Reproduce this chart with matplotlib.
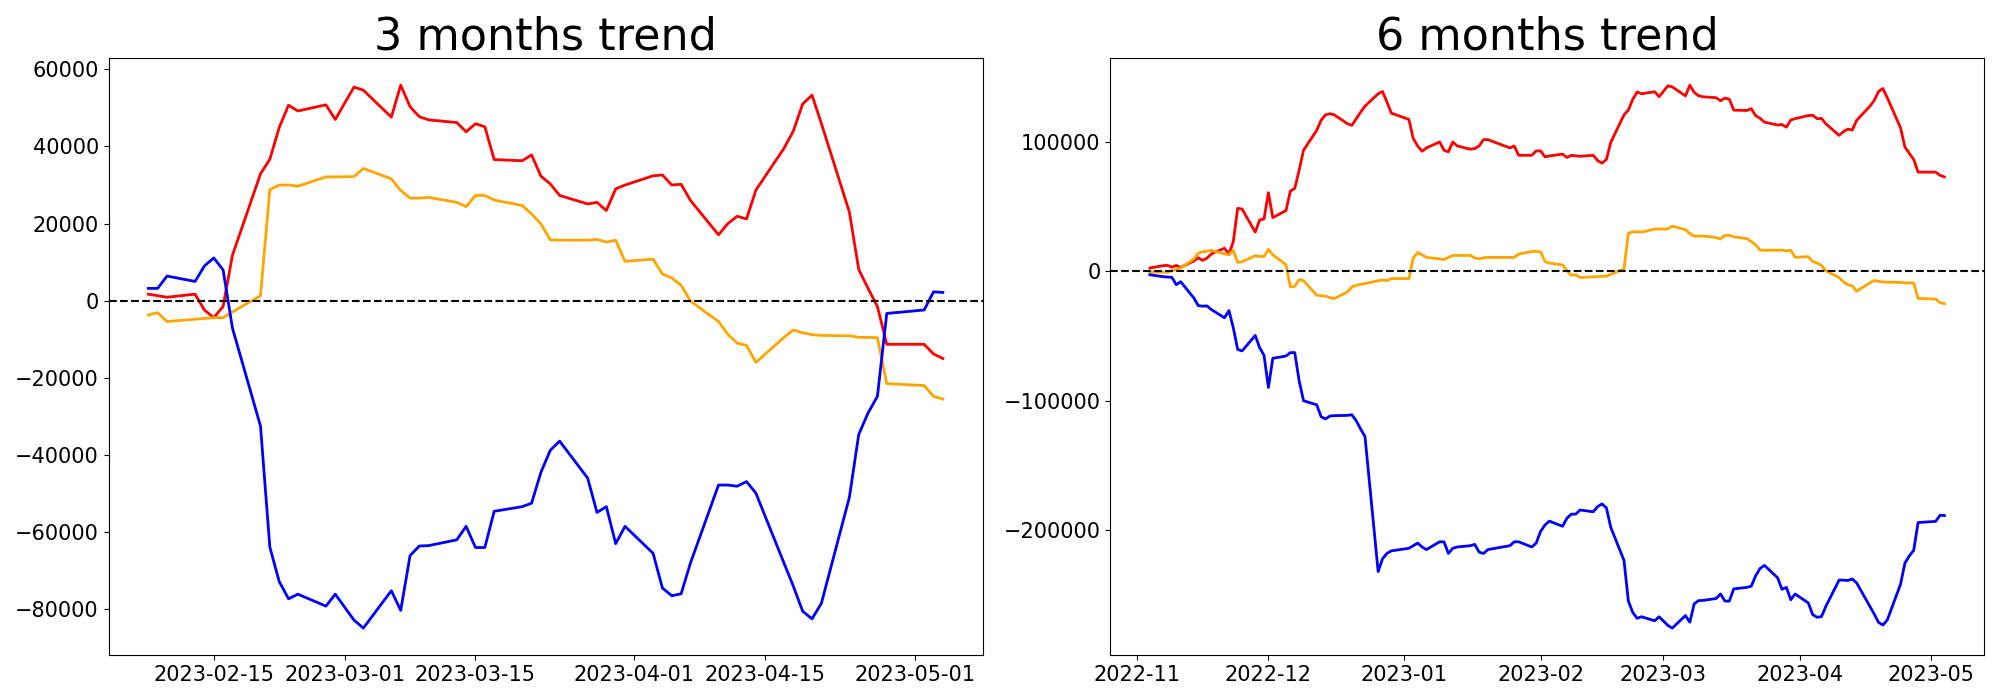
import numpy as np
import pandas as pd
import matplotlib
matplotlib.use('Agg')
import matplotlib.pyplot as plt

# KRX closed days inside the window
krx_holidays = ['2022-12-30', '2023-01-23', '2023-01-24', '2023-03-01', '2023-05-01']


def trading_days(start, end):
    days = pd.bdate_range(start, end)
    return days[~days.isin(pd.to_datetime(krx_holidays))]


dates_3m = trading_days('2023-02-08', '2023-05-04')
dates_6m = trading_days('2022-11-04', '2023-05-04')

# 3 months (2023-02-08 .. 2023-05-04)
red_3m = [1700, 1300, 900, 1700, -2400, -4400, -1500, 11800, 32900, 36700,
          44900, 50700, 49200, 50800, 47000,
          55400, 54600, 47600, 55900, 50300, 47700, 46900, 46200, 43800, 45900,
          45100, 36600, 36300, 37800, 32300, 30300, 27300, 25100, 25500, 23400,
          29000, 30000,
          32400, 32600, 30000, 30200, 26000, 17100, 20000, 21900, 21200, 28700,
          39500, 44000, 51000, 53300, 46000, 23000, 8100, 3200, -1500, -11300,
          -11300, -13800, -15000]
orange_3m = [-3700, -3100, -5400, -4800, -4600, -4400, -4400, -2900, 1300, 28800,
             30000, 30000, 29700, 32100, 32100,
             32200, 34300, 31600, 28600, 26600, 26600, 26800, 25500, 24400, 27300,
             27300, 26100, 24700, 22500, 19900, 15800, 15700, 15700, 15900, 15200,
             15700, 10200,
             10800, 6900, 5900, 4000, -100, -5400, -8700, -11000, -11600, -16000,
             -9500, -7600, -8300, -8800, -9000, -9100, -9500, -9500, -9600, -21500,
             -22000, -24800, -25500]
blue_3m = [3200, 3200, 6400, 5000, 9000, 11100, 8000, -7100, -32500, -63900,
           -72800, -77300, -76100, -79200, -76100,
           -82800, -84900, -75200, -80300, -66100, -63600, -63500, -62000, -58500, -64000,
           -64000, -54600, -53400, -52500, -44500, -38800, -36400, -46000, -54900, -53400,
           -63000, -58500,
           -65500, -74500, -76500, -76000, -68000, -47800, -47800, -48100, -46900, -49900,
           -68000, -74000, -80500, -82500, -78500, -51000, -34700, -29100, -24800, -3300,
           -2400, 2300, 2150]

# 6 months (2022-11-04 .. 2023-05-04)
red_6m = [2600, 4400, 4600, 3300, 4600, 3000, 8000, 10500, 8500, 10200,
          13500, 17900, 13300, 23000, 48700, 48200, 30300, 39700, 40500,
          60800, 41500, 47000, 62100, 64100, 78200, 93600, 109000, 116700, 121000,
          121800, 121000, 114100, 112800, 117900, 123000, 127700, 137200, 139000, 130800,
          122300,
          117400, 102600, 96900, 92800, 95400, 100000, 93600, 92300, 100000, 96900,
          94400, 94900, 96900, 101800, 101800, 95400, 96900, 89700, 89700, 93100,
          93100, 88500, 89200, 90600, 88000, 89700, 89300, 88900, 89700, 85600,
          83600, 86500, 99800, 120900, 124700, 132900, 138700, 137200, 138800, 135000,
          143400, 142600, 135600, 143900, 138300, 135700, 134900, 134200, 131800, 133900,
          133100, 124600, 124300, 125800, 120300, 118300, 115300, 113100, 113500, 111400,
          117000, 118000,
          120400, 120600, 118000, 118200, 114000, 105100, 108000, 109900, 109200, 116700,
          127500, 132000, 139000, 141300, 134000, 111000, 96100, 91200, 86500, 76700,
          76700, 74200, 73000]
orange_6m = [-500, -600, -700, 500, 1500, 2600, 9500, 14100, 15100, 15600,
             16200, 13600, 12800, 16200, 6900, 7400, 12100, 11500, 11500,
             17200, 12800, 5100, -12100, -11500, -6400, -7200, -18500, -18700, -19200,
             -20300, -21000, -15900, -12100, -10800, -10000, -9500, -7200, -6700, -7200,
             -5600,
             -5600, 10300, 14600, 12800, 10800, 9700, 9000, 10800, 12300, 12300,
             12300, 10300, 9700, 10500, 10800, 10800, 10800, 13300, 15400, 15400,
             15100, 7700, 6400, 5000, 600, -3100, -2500, -4800, -4200, -4000,
             -3800, -3800, -2300, 1900, 29400, 30600, 30600, 30300, 32700, 32700,
             32800, 34900, 32200, 29200, 27200, 27200, 27400, 26100, 25000, 27900,
             27900, 26700, 25300, 23100, 20500, 16400, 16300, 16300, 16500, 15800,
             16300, 10800,
             11400, 7500, 6500, 4600, 500, -4800, -8100, -10400, -11000, -15400,
             -8900, -7000, -7700, -8200, -8400, -8500, -8900, -8900, -9000, -20900,
             -21400, -24200, -24900]
blue_6m = [-2600, -4100, -4400, -4600, -10300, -8000, -20500, -26400, -26900, -26700,
           -29500, -35900, -30300, -43600, -60300, -61500, -49500, -59000, -64900,
           -89700, -67200, -65400, -62800, -62800, -84600, -100000, -103100, -112300, -114100,
           -111800, -111500, -111300, -110800, -115400, -121800, -127700, -232000, -222000, -218000,
           -216000,
           -214000, -212000, -210000, -213000, -215000, -209000, -209000, -218000, -214000, -213000,
           -212000, -211000, -217000, -218000, -215000, -212000, -209000, -209000, -213000, -210000,
           -201000, -196000, -193000, -197000, -190800, -187600, -187600, -184400, -185800, -181800,
           -179700, -182800, -197900, -223300, -254700, -263600, -268100, -266900, -270000, -266900,
           -273600, -275700, -266000, -271100, -256900, -254400, -254300, -252800, -249300, -254800,
           -254800, -245400, -244200, -243300, -235300, -229600, -227200, -236800, -245700, -244200,
           -253800, -249300,
           -256300, -265300, -267300, -266800, -258800, -238600, -238600, -238900, -237700, -240700,
           -258800, -264800, -271300, -273300, -269300, -241800, -225500, -219900, -215600, -194100,
           -193200, -188500, -188650]


def trend_plot(ax, dates, red, orange, blue, title):
    ax.plot(dates, red, color='red', lw=2)
    ax.plot(dates, orange, color='orange', lw=2)
    ax.plot(dates, blue, color='blue', lw=2)
    ax.axhline(0, color='black', linestyle='--', lw=1.5)
    ax.set_title(title, fontsize=32)
    ax.tick_params(labelsize=15)


f, axes = plt.subplots(1, 2, figsize=(20, 7))
trend_plot(axes[0], dates_3m, red_3m, orange_3m, blue_3m, '3 months trend')
trend_plot(axes[1], dates_6m, red_6m, orange_6m, blue_6m, '6 months trend')
plt.tight_layout()
plt.savefig('out.png', dpi=100)
